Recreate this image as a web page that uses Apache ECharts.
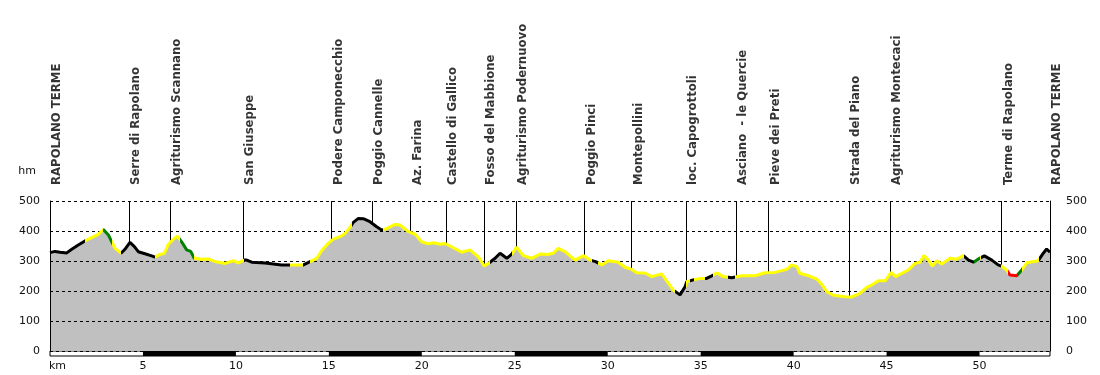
<!DOCTYPE html>
<html><head><meta charset="utf-8">
<style>html,body{margin:0;padding:0;background:#fff}#c{width:1100px;height:375px}</style>
<script src="https://cdn.jsdelivr.net/npm/echarts@6/dist/echarts.min.js"></script>
</head><body><div id="c"></div>
<script>
// profile (km, elevation in m)
const kmPts = [0,0.27,0.54,0.9,1.17,1.52,1.88,2.24,2.6,2.87,3.14,3.32,3.5,3.82,4.03,4.3,4.54,4.75,5.11,5.47,5.65,5.92,6.15,6.37,6.63,6.85,7.08,7.35,7.57,7.76,8.16,8.52,8.88,9.41,9.86,10.13,10.45,10.58,10.85,11.57,12.46,12.91,13.63,13.99,14.35,14.61,14.97,15.24,15.6,15.87,16.14,16.3,16.59,16.85,17.21,17.57,17.84,18.11,18.56,18.83,19.27,19.63,19.99,20.35,20.62,20.98,21.25,21.52,22.15,22.59,23.04,23.36,23.67,23.94,24.21,24.57,24.84,25.1,25.46,25.91,26.36,26.8,27.07,27.34,27.7,28.24,28.69,29.05,29.35,29.68,30.03,30.57,30.93,31.29,31.56,32.0,32.37,32.9,33.17,33.53,33.89,34.16,34.25,34.6,34.97,35.32,35.68,35.86,36.22,36.67,37.21,37.92,38.46,39.0,39.63,39.9,40.17,40.34,40.79,41.24,41.51,41.78,42.14,42.76,43.12,43.57,43.93,44.2,44.56,44.92,45.24,45.49,45.82,46.17,46.53,46.8,47.01,47.25,47.46,47.7,47.97,48.41,48.77,49.13,49.41,49.68,49.94,50.26,50.66,51.0,51.18,51.46,51.64,52.0,52.27,52.54,53.16,53.43,53.61,53.79];
const elevPts = [328,332,329,327,339,353,367,378,389,405,387,364,342,326,339,362,348,331,324,317,313,322,325,356,372,383,364,337,332,309,306,307,298,292,301,294,303,303,296,293,287,287,287,298,309,334,359,373,381,392,412,428,442,441,431,414,403,408,422,420,398,390,364,357,361,356,358,350,329,337,314,283,296,309,326,309,323,346,318,309,323,322,326,342,331,303,318,303,298,287,301,296,279,272,261,260,248,257,234,203,187,214,231,237,242,242,253,261,248,244,251,251,261,262,272,287,281,259,251,240,223,198,186,181,180,192,212,220,234,234,262,248,259,270,292,296,318,303,283,301,290,309,306,318,303,296,307,317,303,287,283,270,253,251,270,294,301,326,340,329];

// waypoints
const wayKm = [0,4.27,6.47,10.40,15.15,17.34,19.40,21.32,23.36,25.08,28.76,31.29,34.23,36.89,38.66,43.00,45.20,51.19,53.79];
const wayNames = ['RAPOLANO TERME','Serre di Rapolano','Agriturismo Scannano','San Giuseppe','Podere Camponecchio','Poggio Cannelle','Az. Farina','Castello di Gallico','Fosso del Mabbione','Agriturismo Podernuovo','Poggio Pinci','Montepollini','loc. Capogrottoli','Asciano  - le Quercie','Pieve dei Preti','Strada del Piano','Agriturismo Montecaci','Terme di Rapolano','RAPOLANO TERME'];

// coloured stretches of the profile line (km from, km to, colour)
const segFrom  = [0,1.88,2.87,3.32,3.82,5.65,7.0,7.76,10.45,12.91,13.63,13.99,16.26,17.93,23.67,24.84,29.14,29.5,33.62,34.2,34.43,34.64,35.23,35.68,36.49,36.85,49.15,49.72,50.03,50.1,51.18,51.55,52.05,52.27,53.2];
const segTo    = [1.88,2.87,3.32,3.82,5.65,7.0,7.76,10.45,12.91,13.63,13.99,16.26,17.93,23.67,24.84,29.14,29.5,33.62,34.2,34.43,34.64,35.23,35.68,36.49,36.85,49.15,49.72,50.03,50.1,51.18,51.55,52.05,52.27,53.2,54];
const segColor = ['k','y','g','y','k','y','g','y','k','y','k','y','k','y','k','y','k','y','k','y','k','y','k','y','k','y','k','g','y','k','y','r','g','y','k'];
const palette = {k:'#000000', y:'#ffff00', g:'#008000', r:'#ff0000'};

// km strip (black stretches)
const stripFrom = [5,15,25,35,45];
const stripTo   = [10,20,30,40,50];

const xMax = 53.79;
const yMin = 0, yMax = 500, yStep = 100, xStep = 5;

const profile = kmPts.map((k, i) => [k, elevPts[i]]);
const pieces = segFrom.map((f, i) => ({gte: f, lt: segTo[i], color: palette[segColor[i]]}));

const chart = echarts.init(document.getElementById('c'), null, {renderer: 'canvas'});
const tickFont = {fontFamily: 'DejaVu Sans', fontSize: 11, color: '#111'};

chart.setOption({
  animation: false,
  grid: [
    {left: 50, right: 50, top: 201, height: 150},
    {left: 50, right: 50, top: 351, height: 5, show: true, backgroundColor: '#fff', borderColor: '#000', borderWidth: 1}
  ],
  xAxis: [
    {gridIndex: 0, type: 'value', min: 0, max: xMax, interval: xStep,
     axisLine: {show: false}, axisTick: {show: false}, axisLabel: {show: false}, splitLine: {show: false}},
    {gridIndex: 1, type: 'value', min: 0, max: xMax, interval: xStep,
     axisLine: {show: false}, axisTick: {show: false}, splitLine: {show: false},
     axisLabel: Object.assign({margin: 5, showMaxLabel: false,
       formatter: v => v === 0 ? '{k|km}' : String(v),
       rich: {k: Object.assign({padding: [0, 0, 0, 15]}, tickFont)}}, tickFont)}
  ],
  yAxis: [
    {gridIndex: 0, type: 'value', min: yMin, max: yMax, interval: yStep, position: 'left', z: 5,
     axisLine: {show: true, lineStyle: {color: '#000', width: 1}}, axisTick: {show: false},
     axisLabel: Object.assign({margin: 10}, tickFont),
     splitLine: {show: true, lineStyle: {color: '#000', width: 1, type: [3, 3]}},
     name: 'hm', nameLocation: 'end', nameGap: 30,
     nameTextStyle: Object.assign({align: 'right', verticalAlign: 'middle', padding: [0, 14, 0, 0]}, tickFont)},
    {gridIndex: 0, type: 'value', min: yMin, max: yMax, interval: yStep, position: 'right', z: 5,
     axisLine: {show: true, lineStyle: {color: '#000', width: 1}}, axisTick: {show: false},
     axisLabel: Object.assign({margin: 16}, tickFont), splitLine: {show: false}},
    {gridIndex: 1, type: 'value', min: 0, max: 1, show: false}
  ],
  visualMap: {show: false, type: 'piecewise', dimension: 0, seriesIndex: 1, pieces: pieces, outOfRange: {color: '#000'}},
  series: [
    {type: 'line', xAxisIndex: 0, yAxisIndex: 0, data: profile, symbol: 'none', silent: true, z: 2,
     lineStyle: {width: 0}, areaStyle: {color: '#c0c0c0', opacity: 1}},
    {type: 'line', xAxisIndex: 0, yAxisIndex: 0, data: profile, symbol: 'none', silent: true, z: 10,
     lineStyle: {width: 3}},
    {type: 'scatter', xAxisIndex: 0, yAxisIndex: 0, data: wayKm.map((k, i) => [k, yMax, wayNames[i]]),
     symbolSize: 0, z: 1, silent: true,
     label: {show: true, position: 'top', distance: 16, rotate: 90, align: 'left', verticalAlign: 'top',
       lineHeight: 13, formatter: p => p.data[2],
       fontFamily: 'DejaVu Sans Condensed, DejaVu Sans', fontWeight: 'bold', fontSize: 13, color: '#000'},
     markLine: {z: 1, symbol: 'none', silent: true, animation: false, label: {show: false},
       lineStyle: {color: '#000', width: 1, type: 'solid'},
       data: wayKm.map(k => [{coord: [k, yMax]}, {coord: [k, yMin]}])}},
    {type: 'line', xAxisIndex: 1, yAxisIndex: 2, data: [], silent: true,
     markArea: {silent: true, itemStyle: {color: '#000'},
       data: stripFrom.map((f, i) => [{xAxis: f}, {xAxis: stripTo[i]}])}}
  ]
});
</script></body></html>
